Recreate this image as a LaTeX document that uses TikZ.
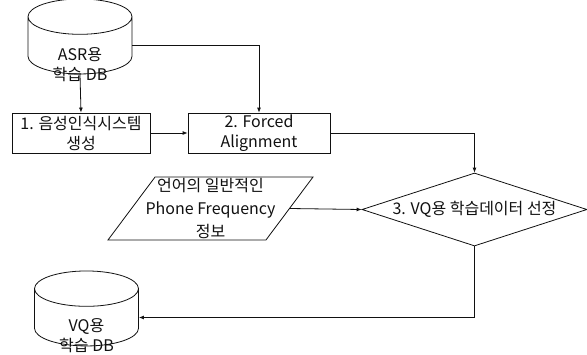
\documentclass[tikz,border=0pt]{standalone}
\usepackage{fontspec}
\setmainfont{Noto Sans CJK KR}
\usetikzlibrary{arrows.meta,positioning,shapes.geometric}
\definecolor{ink}{HTML}{111111}
\tikzset{
  base/.style={font=\fontsize{16}{20}\selectfont, text=ink},
  box/.style={base, draw=ink, fill=white, line width=0.8pt, minimum width=138pt, minimum height=40pt, align=center, inner sep=0pt},
  db/.style={draw=ink, fill=white, line width=0.8pt, cylinder, shape border rotate=90, aspect=0.34, text width=104pt, minimum height=75pt, inner sep=0pt},
  dbtext/.style={base, align=center, yshift=-19pt},
  decision/.style={draw=ink, fill=white, line width=0.8pt, diamond, aspect=3.08, minimum width=225pt, minimum height=73pt, inner sep=1pt},
  datain/.style={draw=ink, fill=white, line width=0.8pt, trapezium, trapezium left angle=67, trapezium right angle=113, trapezium stretches=true, minimum width=205pt, minimum height=63pt, inner sep=1pt},
  arrow/.style={-{Latex[length=5pt,width=4pt]}, line width=0.8pt, draw=ink},
}
\begin{document}
\begin{tikzpicture}[x=1pt,y=-1pt]
  \useasboundingbox (0,0) rectangle (587,354);

  \node[db,label={[dbtext]center:ASR용\\학습 DB}] (asrdb) at (80,45.5) {};
  \node[box] (gen) at (81,133) {1. 음성인식시스템\\생성};
  \node[box,minimum width=142pt] (align) at (259,133) {2. Forced\\Alignment};
  \node[datain,label={[base,align=center,font=\fontsize{16}{23}\selectfont]center:언어의 일반적인\\Phone Frequency\\정보}] (freq) at (210.5,208.5) {};
  \node[decision,label={[base]center:3. VQ용 학습데이터 선정}] (sel) at (474.5,209.5) {};
  \node[db,label={[dbtext,yshift=1pt]center:VQ용\\학습 DB}] (vqdb) at (86.5,317.5) {};

  \draw[arrow] (asrdb.south) -- (gen.north);
  \draw[arrow] (asrdb.east) -| (align.north);
  \draw[arrow] (gen.east) -- (align.west);
  \draw[arrow] (align.east) -| (sel.north);
  \draw[arrow] (freq.east) -- (sel.west);
  \draw[arrow] (sel.south) |- (vqdb.east);
\end{tikzpicture}
\end{document}
